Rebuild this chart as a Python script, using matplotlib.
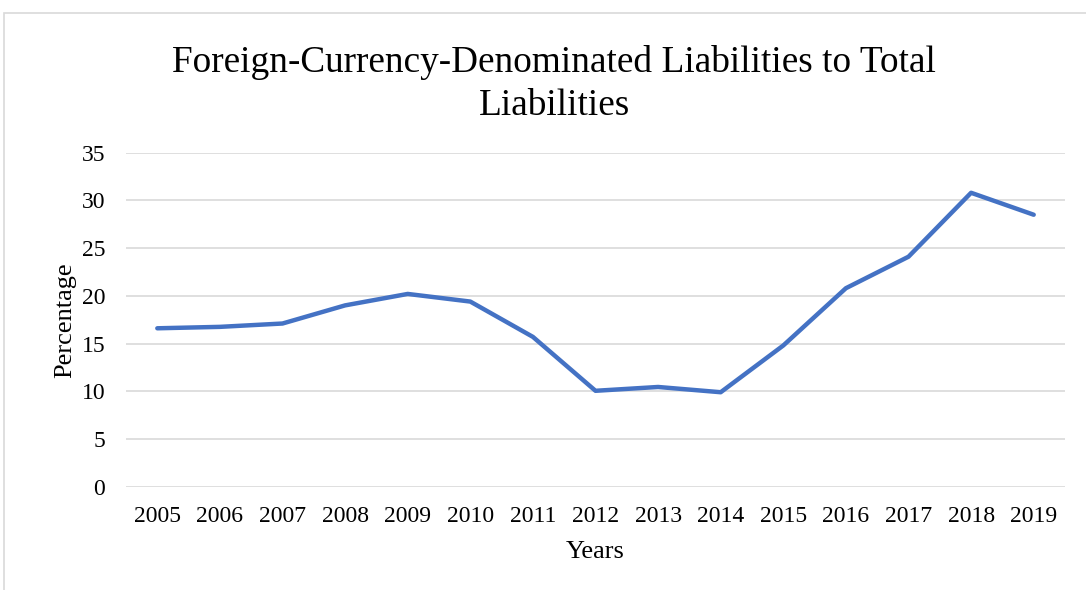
import matplotlib.pyplot as plt
from matplotlib.patches import Rectangle

years = ['2005', '2006', '2007', '2008', '2009', '2010', '2011', '2012',
         '2013', '2014', '2015', '2016', '2017', '2018', '2019']
percentage = [16.6, 16.75, 17.1, 19.0, 20.2, 19.4, 15.7, 10.05,
              10.45, 9.9, 14.8, 20.8, 24.1, 30.8, 28.5]
y_ticks = [0, 5, 10, 15, 20, 25, 30, 35]

plt.rcParams['font.family'] = ['Liberation Serif', 'DejaVu Serif']

fig = plt.figure(figsize=(10.86, 5.9), dpi=100)

# chart border
fig.patches.append(Rectangle((4 / 1086, -0.1), 1.2, 1 - 13 / 590 + 0.1,
                             transform=fig.transFigure, fill=False,
                             edgecolor='#d9d9d9', linewidth=1.2))

ax = fig.add_axes([126 / 1086, 1 - 486.7 / 590, 939 / 1086, 334 / 590])
x = range(len(years))
ax.plot(x, percentage, color='#4472C4', linewidth=3.2,
        solid_capstyle='round', solid_joinstyle='round', zorder=3)

ax.set_xlim(-0.5, len(years) - 0.5)
ax.set_ylim(0, 35)
ax.set_yticks(y_ticks)
ax.set_xticks(list(x))
ax.set_xticklabels(years)
ax.grid(axis='y', color='#d9d9d9', linewidth=1.2)
ax.set_axisbelow(True)
for s in ax.spines.values():
    s.set_visible(False)
ax.tick_params(length=0, labelsize=17, colors='black')
ax.tick_params(axis='x', pad=14)
ax.tick_params(axis='y', pad=15)

ax.set_xlabel('Years', fontsize=19, labelpad=10)
ax.set_ylabel('Percentage', fontsize=19, labelpad=4)

fig.text(554 / 1086, 1 - 84 / 590,
         'Foreign-Currency-Denominated Liabilities to Total\nLiabilities',
         ha='center', va='center', fontsize=26.8, linespacing=1.3)

fig.savefig('out.png', dpi=100)
